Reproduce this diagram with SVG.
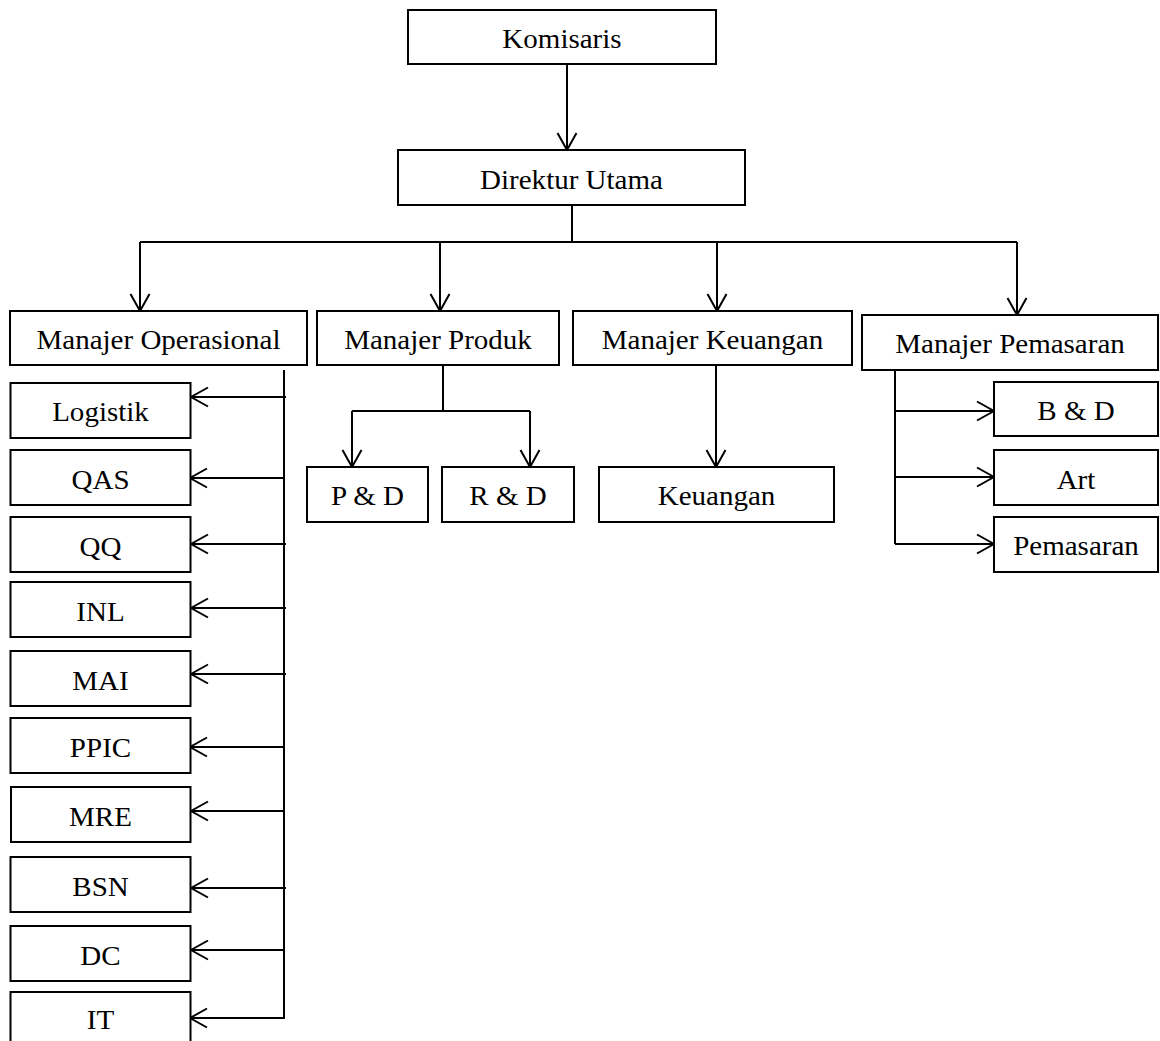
<svg xmlns="http://www.w3.org/2000/svg" width="1160" height="1041" viewBox="0 0 1160 1041">
<style>
rect{fill:#fff;stroke:#000;stroke-width:2}
text{font-family:"Liberation Serif","Times New Roman",serif;font-size:26.7px;fill:#000;text-anchor:middle}
.c line,.c polyline{stroke:#000;stroke-width:2;fill:none}
</style>
<defs>
<marker id="a" viewBox="-20 -12 22 24" refX="0" refY="0" markerWidth="22" markerHeight="24" markerUnits="userSpaceOnUse" orient="auto"><path d="M-17,-9.5 L0,0 L-17,9.5" fill="none" stroke="#000" stroke-width="2"/></marker>
</defs>
<rect x="0" y="0" width="1160" height="1041" style="stroke:none;fill:#fff"/>
<g class="c" id="connectors">
<line x1="567" y1="64" x2="567" y2="150" marker-end="url(#a)"/>
<line x1="572" y1="205" x2="572" y2="242"/>
<line x1="140" y1="242" x2="1017" y2="242"/>
<line x1="140" y1="242" x2="140" y2="311" marker-end="url(#a)"/>
<line x1="440" y1="242" x2="440" y2="311" marker-end="url(#a)"/>
<line x1="717" y1="242" x2="717" y2="311" marker-end="url(#a)"/>
<line x1="1017" y1="242" x2="1017" y2="315" marker-end="url(#a)"/>
<line x1="284" y1="370" x2="284" y2="1018"/>
<line x1="286" y1="397" x2="191" y2="397" marker-end="url(#a)"/>
<line x1="284" y1="478" x2="190" y2="478" marker-end="url(#a)"/>
<line x1="286" y1="544" x2="191" y2="544" marker-end="url(#a)"/>
<line x1="286" y1="608" x2="191" y2="608" marker-end="url(#a)"/>
<line x1="286" y1="674" x2="191" y2="674" marker-end="url(#a)"/>
<line x1="284" y1="747" x2="190" y2="747" marker-end="url(#a)"/>
<line x1="284" y1="811" x2="191" y2="811" marker-end="url(#a)"/>
<line x1="286" y1="888" x2="191" y2="888" marker-end="url(#a)"/>
<line x1="284" y1="950" x2="191" y2="950" marker-end="url(#a)"/>
<line x1="285" y1="1018" x2="190" y2="1018" marker-end="url(#a)"/>
<line x1="443" y1="364" x2="443" y2="411"/>
<line x1="352" y1="411" x2="530" y2="411"/>
<line x1="352" y1="411" x2="352" y2="467" marker-end="url(#a)"/>
<line x1="530" y1="411" x2="530" y2="467" marker-end="url(#a)"/>
<line x1="716" y1="364" x2="716" y2="467" marker-end="url(#a)"/>
<line x1="895" y1="370" x2="895" y2="544"/>
<line x1="895" y1="411" x2="994" y2="411" marker-end="url(#a)"/>
<line x1="895" y1="477" x2="994" y2="477" marker-end="url(#a)"/>
<line x1="895" y1="544" x2="994" y2="544" marker-end="url(#a)"/>
</g>
<g id="komisaris"><rect x="408" y="10" width="308" height="54"/><text transform="translate(562,48) scale(1.087,1)">Komisaris</text></g>
<g id="direktur"><rect x="398" y="150" width="347" height="55"/><text transform="translate(571.5,188.5) scale(1.087,1)">Direktur Utama</text></g>
<g id="m-operasional"><rect x="10" y="311" width="297" height="54"/><text transform="translate(158.5,349) scale(1.087,1)">Manajer Operasional</text></g>
<g id="m-produk"><rect x="317" y="311" width="242" height="54"/><text transform="translate(438,349) scale(1.087,1)">Manajer Produk</text></g>
<g id="m-keuangan"><rect x="573" y="311" width="279" height="54"/><text transform="translate(712.5,349) scale(1.087,1)">Manajer Keuangan</text></g>
<g id="m-pemasaran"><rect x="862" y="315" width="296" height="55"/><text transform="translate(1010,353) scale(1.087,1)">Manajer Pemasaran</text></g>
<g id="logistik"><rect x="10.5" y="383" width="180" height="55"/><text transform="translate(100.5,421) scale(1.087,1)">Logistik</text></g>
<g id="qas"><rect x="10.5" y="450" width="180" height="55"/><text transform="translate(100.5,488.5) scale(1.087,1)">QAS</text></g>
<g id="qq"><rect x="10.5" y="517" width="180" height="55"/><text transform="translate(100.5,555.5) scale(1.087,1)">QQ</text></g>
<g id="inl"><rect x="10.5" y="582" width="180" height="55"/><text transform="translate(100.5,620.5) scale(1.087,1)">INL</text></g>
<g id="mai"><rect x="10.5" y="651" width="180" height="55"/><text transform="translate(100.5,689.5) scale(1.087,1)">MAI</text></g>
<g id="ppic"><rect x="10.5" y="718" width="180" height="55"/><text transform="translate(100.5,756.5) scale(1.087,1)">PPIC</text></g>
<g id="mre"><rect x="11" y="787" width="179.5" height="55"/><text transform="translate(100.5,825.5) scale(1.087,1)">MRE</text></g>
<g id="bsn"><rect x="10.5" y="857" width="180" height="55"/><text transform="translate(100.5,895.5) scale(1.087,1)">BSN</text></g>
<g id="dc"><rect x="10.5" y="926" width="180" height="55"/><text transform="translate(100.5,964.5) scale(1.087,1)">DC</text></g>
<g id="it"><rect x="10.5" y="992" width="180" height="60"/><text transform="translate(100.5,1028.5) scale(1.087,1)">IT</text></g>
<g id="pd"><rect x="307" y="467" width="121" height="55"/><text transform="translate(367.5,505) scale(1.087,1)">P &amp; D</text></g>
<g id="rd"><rect x="442" y="467" width="132" height="55"/><text transform="translate(508,505) scale(1.087,1)">R &amp; D</text></g>
<g id="keuangan"><rect x="599" y="467" width="235" height="55"/><text transform="translate(716.5,505) scale(1.087,1)">Keuangan</text></g>
<g id="bd"><rect x="994" y="382" width="164" height="54"/><text transform="translate(1076,419.5) scale(1.087,1)">B &amp; D</text></g>
<g id="art"><rect x="994" y="450" width="164" height="55"/><text transform="translate(1076,488.5) scale(1.087,1)">Art</text></g>
<g id="pemasaran"><rect x="994" y="517" width="164" height="55"/><text transform="translate(1076,554.5) scale(1.087,1)">Pemasaran</text></g>
</svg>
